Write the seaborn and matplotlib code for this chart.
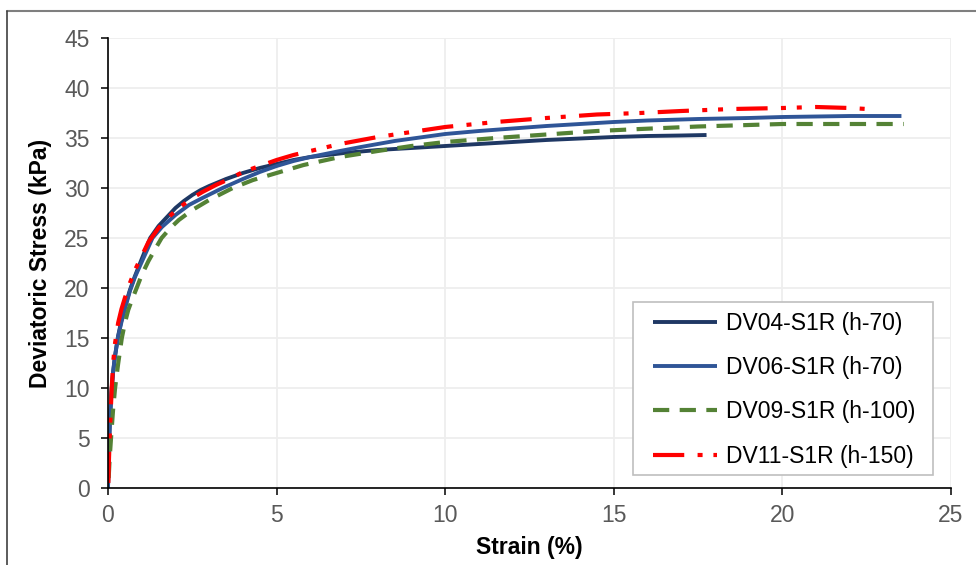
import matplotlib
matplotlib.use("Agg")
import matplotlib.pyplot as plt
from matplotlib.lines import Line2D
from matplotlib.patches import Rectangle
import seaborn as sns
import pandas as pd

# ---------------- data ----------------
dv04_x = [0, 0.02, 0.05, 0.1, 0.15, 0.2, 0.3, 0.4, 0.5, 0.65, 0.8, 1.0, 1.25, 1.5,
          1.75, 2.0, 2.25, 2.5, 2.75, 3.0, 3.5, 4.0, 4.5, 5.0, 5.5, 6.0, 7.0, 8.0,
          9.0, 10.0, 11.0, 12.0, 13.0, 14.0, 15.0, 16.0, 17.0, 17.75]
dv04_y = [0, 3, 6.5, 9.5, 11.5, 13, 15.2, 16.8, 18.1, 19.8, 21.2, 22.9, 25.0, 26.2,
          27.1, 28.0, 28.7, 29.3, 29.8, 30.2, 30.9, 31.5, 32.0, 32.4, 32.8, 33.1, 33.5, 33.8,
          34.0, 34.2, 34.4, 34.6, 34.8, 34.95, 35.1, 35.2, 35.25, 35.3]

dv06_x = [0, 0.02, 0.04, 0.07, 0.11, 0.15, 0.2, 0.29, 0.4, 0.5, 0.65, 0.8, 1.0, 1.32,
          1.6, 2.0, 2.4, 2.8, 3.4, 4.0, 4.5, 5.0, 5.5, 6.0, 6.88, 7.5, 8.5, 10.0,
          11.0, 12.0, 13.0, 14.0, 15.0, 16.0, 17.5, 19.0, 20.0, 21.0, 22.0, 23.53]
dv06_y = [0, 2.5, 5, 7.5, 10, 11.6, 13, 15, 16.6, 17.9, 19.7, 21.1, 22.6, 25.0,
          26.1, 27.3, 28.3, 29.0, 30.0, 30.9, 31.6, 32.2, 32.7, 33.1, 33.7, 34.1, 34.7, 35.4,
          35.7, 35.95, 36.2, 36.4, 36.6, 36.75, 36.9, 37.0, 37.1, 37.15, 37.2, 37.2]

dv09_x = [0.02, 0.05, 0.09, 0.15, 0.21, 0.3, 0.41, 0.5, 0.6, 0.72, 0.85, 1.0, 1.2,
          1.4, 1.59, 1.85, 2.1, 2.5, 3.0, 3.7, 4.3, 5.0, 5.8, 6.88, 8.0, 9.0, 10.0,
          11.5, 13.0, 14.5, 15.78, 17.5, 19.0, 20.0, 21.5, 23.6]
dv09_y = [1, 3, 5, 7.8, 10, 12.4, 15, 16.5, 17.8, 18.9, 20, 21.3, 22.7,
          23.9, 25, 26.0, 26.8, 27.8, 28.8, 30, 30.8, 31.5, 32.3, 33.1, 33.7, 34.2, 34.6,
          35.0, 35.35, 35.7, 35.9, 36.15, 36.3, 36.4, 36.4, 36.4]

dv11_x = [0.01, 0.03, 0.06, 0.11, 0.16, 0.21, 0.3, 0.4, 0.5, 0.65, 0.8, 1.0, 1.2,
          1.5, 1.8, 2.1, 2.5, 2.8, 3.2, 3.6, 4.0, 4.5, 5.0, 5.5, 6.0, 6.88, 8.0, 9.0,
          10.0, 11.5, 13.0, 14.5, 15.78, 17.0, 18.5, 20.0, 21.0, 22.0, 22.5]
dv11_y = [0.5, 3, 6, 10, 12.8, 14.5, 16.5, 17.9, 19.0, 20.5, 21.8, 23.2, 24.6,
          26.0, 27.1, 28.0, 29.0, 29.6, 30.3, 30.9, 31.6, 32.2, 32.8, 33.3, 33.7, 34.4, 35.1, 35.6,
          36.1, 36.6, 37.0, 37.35, 37.5, 37.7, 37.9, 38.0, 38.1, 38.0, 37.9]

labels = ["DV04-S1R (h-70)", "DV06-S1R (h-70)", "DV09-S1R (h-100)", "DV11-S1R (h-150)"]
x_ticks = [0, 5, 10, 15, 20, 25]
y_ticks = [0, 5, 10, 15, 20, 25, 30, 35, 40, 45]

# ---------------- style ----------------
sns.set_style("white")
plt.rcParams["font.family"] = ["Liberation Sans", "DejaVu Sans"]
FS = 16.5

fig = plt.figure(figsize=(9.76, 5.65), dpi=100)
ax = fig.add_axes([108 / 976, 1 - 488 / 565, (951 - 108) / 976, (488 - 38) / 565])

series = [
    (dv04_x, dv04_y, labels[0], "#1F3864", None, 2.8),
    (dv06_x, dv06_y, labels[1], "#2F5597", None, 2.8),
    (dv09_x, dv09_y, labels[2], "#548235", (3.9, 2.5), 3.0),
    (dv11_x, dv11_y, labels[3], "#FF0000", (7.5, 3.2, 1.2, 2.6, 1.2, 3.2), 3.0),
]

handles = []
for xs, ys, lab, col, dash, lw in series:
    df = pd.DataFrame({"x": xs, "y": ys})
    sns.lineplot(data=df, x="x", y="y", ax=ax, color=col, linewidth=lw,
                 sort=False, estimator=None, label=lab)
    line = ax.get_lines()[-1]
    if dash is not None:
        line.set_dashes(dash)
    line.set_solid_capstyle("butt")
    line.set_dash_capstyle("butt")
    line.set_solid_joinstyle("round")
    handles.append(line)

ax.set_xlim(0, 25)
ax.set_ylim(0, 45)
ax.set_xticks(x_ticks)
ax.set_yticks(y_ticks)
ax.grid(True, color="#EEEEEE", linewidth=1.3)
ax.set_axisbelow(True)

for s in ["top", "right"]:
    ax.spines[s].set_visible(False)
for s in ["left", "bottom"]:
    ax.spines[s].set_color("black")
    ax.spines[s].set_linewidth(1.2)

ax.tick_params(axis="both", which="major", direction="out", length=5.3, width=1.1,
               color="black", labelsize=FS, labelcolor="#595959",
               bottom=True, left=True)
ax.tick_params(axis="y", pad=8)
ax.tick_params(axis="x", pad=6)

ax.set_xlabel("Strain (%)", fontsize=FS, fontweight="bold", color="black", labelpad=7)
ax.set_ylabel("Deviatoric Stress (kPa)", fontsize=FS, fontweight="bold", color="black", labelpad=9)

# legend frame
ax.add_patch(Rectangle(((633 - 108) / 843, (488 - 475) / 450), 300 / 843, 173 / 450,
                       transform=ax.transAxes, facecolor="white", edgecolor="#BFBFBF",
                       linewidth=1.2, zorder=4, clip_on=False))
leg = ax.legend(handles=handles, labels=labels, loc="upper left",
                bbox_to_anchor=((652.7 - 108) / 843, (488 - 311.7) / 450), borderaxespad=0,
                fontsize=FS, frameon=False, handlelength=2.8, handletextpad=0.4,
                labelspacing=0.93, borderpad=0)
leg.set_zorder(5)
for t in leg.get_texts():
    t.set_color("black")

# outer chart border (cropped at right and bottom)
fig.add_artist(Line2D([7 / 976, 1.0], [1 - 11 / 565, 1 - 11 / 565],
                      transform=fig.transFigure, color="#7F7F7F", linewidth=1.5))
fig.add_artist(Line2D([7 / 976, 7 / 976], [0.0, 1 - 11 / 565],
                      transform=fig.transFigure, color="#404040", linewidth=1.2))

fig.savefig("out.png", dpi=100)
